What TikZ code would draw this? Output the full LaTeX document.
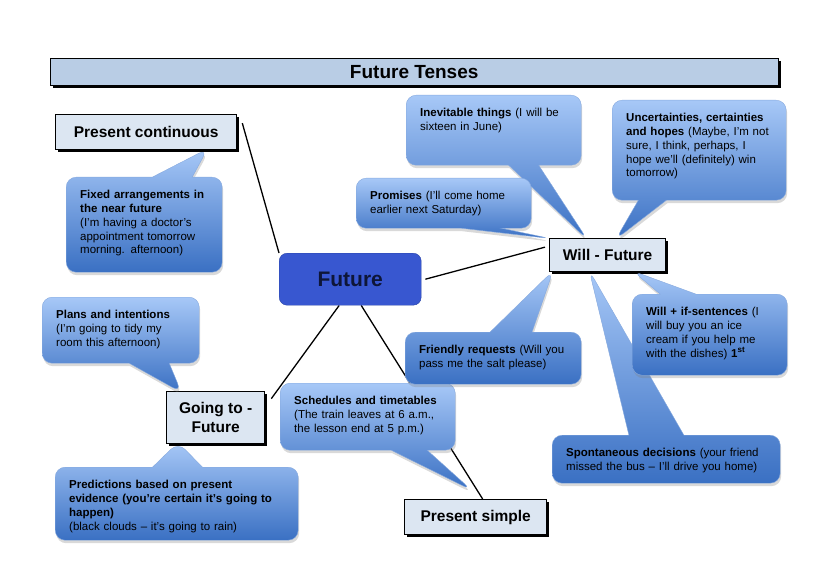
\documentclass[tikz,border=0pt]{standalone}
\usepackage{fontspec}
\setmainfont{Liberation Sans}
\usetikzlibrary{shapes.callouts,shadows,backgrounds,calc}
\definecolor{titleFill} {HTML}{B9CDE5}
\definecolor{tenseFill} {HTML}{DCE6F2}
\definecolor{hubFill}   {HTML}{3857D0}
\definecolor{hubEdge}   {HTML}{2A45A6}
\definecolor{hubText}   {HTML}{0E1638}
\definecolor{useTop}    {HTML}{A7C8F7}
\definecolor{useBottom} {HTML}{3A70C3}
\definecolor{useEdge}   {HTML}{86A9DE}

\begin{document}
\begin{tikzpicture}[x=1pt, y=-1pt,
      titlebar/.style={draw=black, fill=titleFill, inner sep=0pt,
                  font=\fontsize{19}{22}\selectfont\bfseries,
                  drop shadow={shadow xshift=3pt, shadow yshift=-3pt, fill=black, opacity=1}},
      tensebox/.style={draw=black, line width=1.3pt, fill=tenseFill, inner sep=0pt,
                  align=center, font=\fontsize{15.5}{19}\selectfont\bfseries,
                  drop shadow={shadow xshift=2.5pt, shadow yshift=-2.5pt, fill=black, opacity=1}},
      hub/.style={draw=hubEdge, fill=hubFill, rounded corners=8pt, text=hubText,
                  font=\fontsize{21}{25}\selectfont\bfseries},
      usebox/.style={rectangle callout, rounded corners=10pt, top color=useTop,
                  bottom color=useBottom, draw=useEdge, thin, align=left,
                  inner xsep=14pt, inner ysep=10pt, text height=11.5pt,
                  callout pointer width=40pt, callout pointer shorten=-2pt,
                  anchor=north west, font=\fontsize{11.5}{13.8}\selectfont,
                  drop shadow={shadow xshift=1pt, shadow yshift=-3pt, opacity=.3}},
      link/.style={draw=black, line width=1.3pt}]
    \useasboundingbox (0,0) rectangle (821,580);
    \node[titlebar, minimum width=728pt, minimum height=27pt, anchor=north west] (title) at (50,58) {Future Tenses};
    \node[hub, minimum width=142pt, minimum height=52pt, anchor=north west] (hub) at (279,253) {Future};
    \node[tensebox, minimum width=181pt, minimum height=35pt, anchor=north west] (pcont) at (55,114) {Present continuous};
    \node[tensebox, minimum width=116pt, minimum height=33pt, anchor=north west] (will) at (549,238) {Will - Future};
    \node[tensebox, minimum width=98pt, minimum height=52pt, anchor=north west] (going) at (166,391) {Going to -\\Future};
    \node[tensebox, minimum width=142pt, minimum height=35pt, anchor=north west] (psimple) at (404,499) {Present simple};

    \node[usebox, text width=128pt, text depth=63.5pt,
          callout absolute pointer={([xshift=-31pt]pcont.south east)}] (fixed) at (66,177)
      {\textbf{Fixed arrangements in}\\\textbf{the near future}\\(I'm having a doctor's\\appointment tomorrow\\morning. afternoon)};
    \node[usebox, text width=129pt, text depth=34.5pt,
          callout absolute pointer={([xshift=14pt]going.north west)}] (plans) at (42,297)
      {\textbf{Plans and intentions}\\(I'm going to tidy my\\room this afternoon)};
    \node[usebox, text width=215pt, text depth=41.5pt, callout pointer width=50pt,
          callout absolute pointer={([xshift=12pt]going.south west)}] (predict) at (55,467)
      {\textbf{Predictions based on present}\\\textbf{evidence (you're certain it's going to}\\\textbf{happen)}\\(black clouds -- it's going to rain)};
    \node[usebox, text width=147pt, text depth=35.5pt, callout pointer width=36pt,
          callout absolute pointer={([xshift=66pt,yshift=10pt]psimple.north west)}] (sched) at (280,383)
      {\textbf{Schedules and timetables}\\(The train leaves at 6 a.m.,\\the lesson end at 5 p.m.)};
    \node[usebox, text width=147pt, text depth=38.5pt, callout pointer width=30pt,
          callout absolute pointer={([xshift=37pt]will.north west)}] (inevit) at (406,95)
      {\textbf{Inevitable things} (I will be\\sixteen in June)};
    \node[usebox, text width=146pt, text depth=68.5pt, callout pointer width=28pt,
          callout absolute pointer={([xshift=68pt]will.north west)}] (hopes) at (612,100)
      {\textbf{Uncertainties, certainties}\\\textbf{and hopes} (Maybe, I'm not\\sure, I think, perhaps, I\\hope we'll (definitely) win\\tomorrow)};
    \node[usebox, text width=147pt, text depth=18.5pt,
          callout absolute pointer={(will.north west)}] (promise) at (356,178)
      {\textbf{Promises} (I'll come home\\earlier next Saturday)};
    \node[usebox, text width=148pt, text depth=20.5pt, callout pointer width=42pt,
          callout absolute pointer={([xshift=3pt]will.south west)}] (request) at (405,332)
      {\textbf{Friendly requests} (Will you\\pass me the salt please)};
    \node[usebox, text width=200pt, text depth=16.5pt, callout pointer width=55pt,
          callout absolute pointer={([xshift=41pt]will.south west)}] (spont) at (552,435)
      {\textbf{Spontaneous decisions} (your friend\\missed the bus -- I'll drive you home)};
    \node[usebox, text width=127pt, text depth=49.5pt, callout pointer width=36pt,
          callout absolute pointer={([xshift=-32pt]will.south east)}] (ifsent) at (632,294)
      {\textbf{Will + if-sentences} (I\\will buy you an ice\\cream if you help me\\with the dishes) \textbf{1\textsuperscript{st}}};

    \begin{scope}[on background layer]
      \draw[link] ([xshift=5pt,yshift=9pt]pcont.east) -- (hub.north west);
      \draw[link] ([xshift=4pt]hub.east) -- ([xshift=-4pt,yshift=8pt]will.west);
      \draw[link] ([xshift=-11pt]hub.south) -- ([xshift=6pt,yshift=19pt]going.east);
      \draw[link] ([xshift=11pt]hub.south) -- ([xshift=7pt]psimple.north);
    \end{scope}
  \end{tikzpicture}
\end{document}
